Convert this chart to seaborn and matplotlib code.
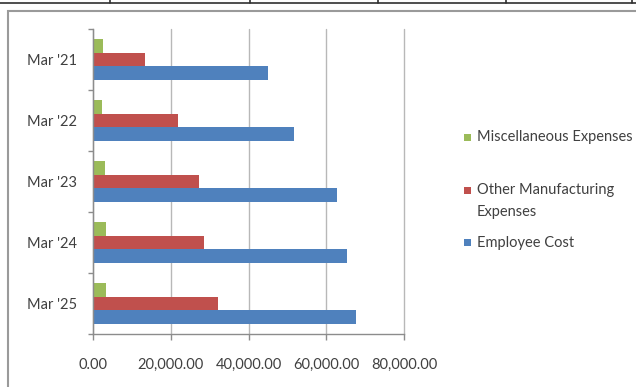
import matplotlib
matplotlib.use("Agg")
import matplotlib.pyplot as plt
from matplotlib.patches import Rectangle
from matplotlib.lines import Line2D
from matplotlib.ticker import FixedLocator, FuncFormatter
import seaborn as sns
import pandas as pd

# ---- data ----
categories = ["Mar '21", "Mar '22", "Mar '23", "Mar '24", "Mar '25"]
employee_cost = [45100, 51700, 62800, 65200, 67600]
other_manufacturing = [13300, 21900, 27200, 28500, 32200]
miscellaneous = [2600, 2300, 3200, 3400, 3400]
series_names = ["Miscellaneous Expenses", "Other Manufacturing Expenses", "Employee Cost"]
legend_labels = ["Miscellaneous Expenses", "Other Manufacturing\nExpenses", "Employee Cost"]
x_ticks = [0, 20000, 40000, 60000, 80000]
colors = ["#9BBB59", "#C0504D", "#4F81BD"]

rows = []
for name, vals in zip(series_names, [miscellaneous, other_manufacturing, employee_cost]):
    for c, v in zip(categories, vals):
        rows.append({"Period": c, "Value": v, "Series": name})
df = pd.DataFrame(rows)

sns.set_theme(style="white")
plt.rcParams["font.family"] = ["Lato", "DejaVu Sans"]
text_color = "#404040"
axis_color = "#8c8c8c"

W, H = 636, 387
fig = plt.figure(figsize=(W / 100, H / 100), dpi=100)
ax = fig.add_axes([92.7 / W, 1 - 334 / H, (404.3 - 92.7) / W, (334 - 29) / H])

sns.barplot(data=df, y="Period", x="Value", hue="Series", hue_order=series_names,
            order=categories, palette=colors, orient="h", width=0.66,
            saturation=1, linewidth=0, legend=False, ax=ax)

ax.set_xlim(0, 80000)
ax.set_ylim(4.5, -0.5)
ax.set_xlabel("")
ax.set_ylabel("")
ax.xaxis.set_major_locator(FixedLocator(x_ticks))
ax.xaxis.set_major_formatter(FuncFormatter(lambda v, p: f"{v:,.2f}"))
ax.grid(axis="x", color="#b8b8b8", linewidth=1.0)
for gl in ax.get_xgridlines():
    gl.set_clip_on(False)
ax.set_axisbelow(True)
for s in ["top", "right"]:
    ax.spines[s].set_visible(False)
for s in ["left", "bottom"]:
    ax.spines[s].set_color(axis_color)
    ax.spines[s].set_linewidth(1.0)

ax.tick_params(axis="x", which="major", direction="out", length=4, width=1,
               color=axis_color, pad=13, labelsize=10.5, labelcolor=text_color, bottom=True)
ax.tick_params(axis="y", which="major", length=0, pad=11, labelsize=10.5, labelcolor=text_color)
ax.yaxis.set_minor_locator(FixedLocator([i - 0.5 for i in range(len(categories) + 1)]))
ax.tick_params(axis="y", which="minor", direction="out", length=3.5, width=1,
               color=axis_color, left=True)

# ---- legend (manual placement to mimic the spreadsheet layout) ----
legend_y = [137, 190, 243]
for lab, col, yy in zip(legend_labels, colors, legend_y):
    fig.patches.append(Rectangle(((467 - 3.5) / W, 1 - (yy + 3.5) / H), 7 / W, 7 / H,
                                 transform=fig.transFigure, facecolor=col, edgecolor="none"))
    fig.text(477 / W, 1 - (yy - 7) / H, lab, ha="left", va="top", fontsize=10.5,
             color=text_color, linespacing=1.75)

# ---- chart frame (cut off at right/bottom) and table line above ----
fig.patches.append(Rectangle((8 / W, -0.1), 2.0, (1 - 11 / H) + 0.1,
                             transform=fig.transFigure, facecolor="none",
                             edgecolor="#9a9a9a", linewidth=1.5))
fig.lines.append(Line2D([0, 1], [1 - 3 / H, 1 - 3 / H], transform=fig.transFigure,
                        color="#303030", linewidth=1.2))
for xv in [110, 250, 378, 506, 632]:
    fig.lines.append(Line2D([xv / W, xv / W], [1, 1 - 3 / H], transform=fig.transFigure,
                            color="#303030", linewidth=1.2))

fig.savefig("out.png", dpi=100)
